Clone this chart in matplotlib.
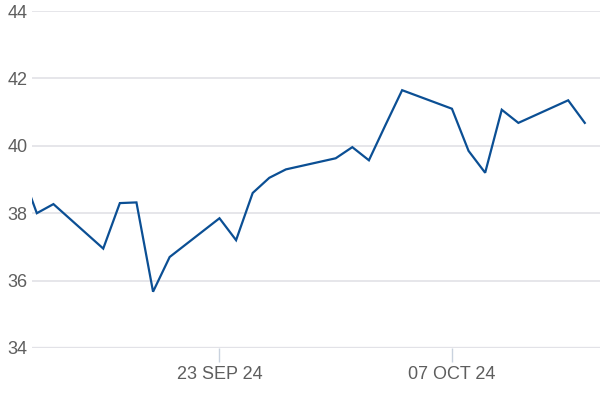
import numpy as np
import pandas as pd
import matplotlib
matplotlib.use("Agg")
import matplotlib.pyplot as plt
import matplotlib.dates as mdates

# daily closes (weekdays)
dates = pd.to_datetime([
    "2024-09-11", "2024-09-12", "2024-09-13",
    "2024-09-16", "2024-09-17", "2024-09-18", "2024-09-19", "2024-09-20",
    "2024-09-23", "2024-09-24", "2024-09-25", "2024-09-26", "2024-09-27",
    "2024-09-30", "2024-10-01", "2024-10-02", "2024-10-03", "2024-10-04",
    "2024-10-07", "2024-10-08", "2024-10-09", "2024-10-10", "2024-10-11",
    "2024-10-14", "2024-10-15",
])
prices = [
    39.35, 38.0, 38.27,
    36.95, 38.3, 38.32, 35.67, 36.7,
    37.85, 37.2, 38.6, 39.05, 39.3,
    39.63, 39.96, 39.57, 40.62, 41.65,
    41.1, 39.85, 39.2, 41.07, 40.68,
    41.35, 40.68,
]
tick_dates = pd.to_datetime(["2024-09-23", "2024-10-07"])
y_ticks = [34, 36, 38, 40, 42, 44]

plt.rcParams["font.family"] = ["Liberation Sans", "DejaVu Sans"]

fig = plt.figure(figsize=(6, 4), dpi=100)
ax = fig.add_axes([0.0533, 0.13, 0.9467, 0.8425])

ax.plot(dates, prices, color="#0b4f94", linewidth=1.6, solid_joinstyle="miter")

ax.set_ylim(34, 44)
ax.set_yticks(y_ticks)
ax.set_xlim(pd.Timestamp("2024-09-11 17:00"), pd.Timestamp("2024-10-15 22:00"))
ax.set_xticks(tick_dates)
ax.xaxis.set_major_formatter(mdates.DateFormatter("%d %b %y"))
ax.set_xticklabels([d.strftime("%d %b %y").upper() for d in tick_dates])

ax.grid(axis="y", color="#e4e4e8", linewidth=1.3)
ax.set_axisbelow(True)
for s in ax.spines.values():
    s.set_visible(False)
ax.axhline(34, color="#d6d8de", linewidth=1.6, zorder=0)

ax.tick_params(axis="y", length=0, pad=3, labelsize=13, labelcolor="#5e5e5e")
ax.tick_params(axis="x", length=10, width=1, color="#c9d2de", pad=3,
               labelsize=13, labelcolor="#5e5e5e")

fig.savefig("out.png", dpi=100)
